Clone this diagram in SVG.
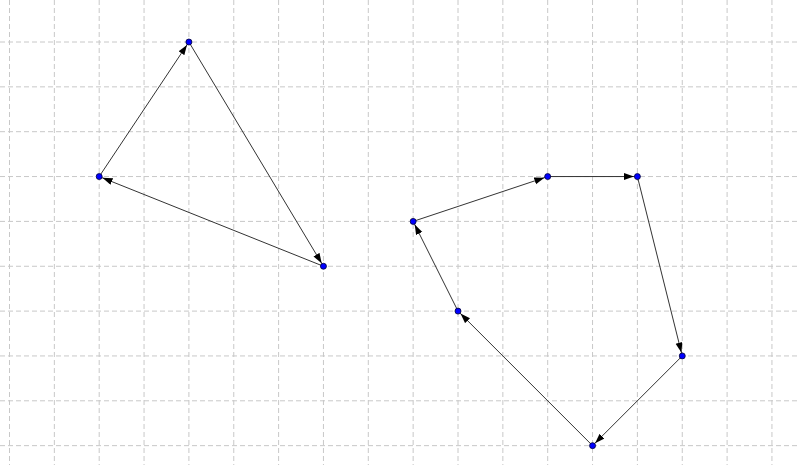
<svg xmlns="http://www.w3.org/2000/svg" width="800" height="465" viewBox="0 0 800 465">
<style>
.g line{stroke:#c8c8c8;stroke-width:1;stroke-dasharray:5,3}
.e line{stroke:#333;stroke-width:1;marker-end:url(#a)}
.n circle{fill:#0000ff;stroke:#000033;stroke-width:0.8}
</style>
<defs>
<marker id="a" markerUnits="userSpaceOnUse" markerWidth="14" markerHeight="8" refX="13.5" refY="3.5" orient="auto"><path d="M0,0 L10,3.5 L0,7 z" fill="#000"/></marker>
</defs>
<rect width="800" height="465" fill="#fff"/>
<g class="g" id="grid">
<line x1="9.5" y1="0" x2="9.5" y2="465"/>
<line x1="54.35" y1="0" x2="54.35" y2="465"/>
<line x1="99.2" y1="0" x2="99.2" y2="465"/>
<line x1="144.05" y1="0" x2="144.05" y2="465"/>
<line x1="188.9" y1="0" x2="188.9" y2="465"/>
<line x1="233.75" y1="0" x2="233.75" y2="465"/>
<line x1="278.6" y1="0" x2="278.6" y2="465"/>
<line x1="323.45" y1="0" x2="323.45" y2="465"/>
<line x1="368.3" y1="0" x2="368.3" y2="465"/>
<line x1="413.15" y1="0" x2="413.15" y2="465"/>
<line x1="458" y1="0" x2="458" y2="465"/>
<line x1="502.85" y1="0" x2="502.85" y2="465"/>
<line x1="547.7" y1="0" x2="547.7" y2="465"/>
<line x1="592.55" y1="0" x2="592.55" y2="465"/>
<line x1="637.4" y1="0" x2="637.4" y2="465"/>
<line x1="682.25" y1="0" x2="682.25" y2="465"/>
<line x1="727.1" y1="0" x2="727.1" y2="465"/>
<line x1="771.95" y1="0" x2="771.95" y2="465"/>
<line x1="0" y1="42" x2="800" y2="42"/>
<line x1="0" y1="86.85" x2="800" y2="86.85"/>
<line x1="0" y1="131.7" x2="800" y2="131.7"/>
<line x1="0" y1="176.55" x2="800" y2="176.55"/>
<line x1="0" y1="221.4" x2="800" y2="221.4"/>
<line x1="0" y1="266.25" x2="800" y2="266.25"/>
<line x1="0" y1="311.1" x2="800" y2="311.1"/>
<line x1="0" y1="355.95" x2="800" y2="355.95"/>
<line x1="0" y1="400.8" x2="800" y2="400.8"/>
<line x1="0" y1="445.65" x2="800" y2="445.65"/>
</g>
<g class="e" id="connectors">
<line x1="99.2" y1="176.55" x2="188.9" y2="42"/>
<line x1="188.9" y1="42" x2="323.45" y2="266.25"/>
<line x1="323.45" y1="266.25" x2="99.2" y2="176.55"/>
<line x1="413.15" y1="221.4" x2="547.7" y2="176.55"/>
<line x1="547.7" y1="176.55" x2="637.4" y2="176.55"/>
<line x1="637.4" y1="176.55" x2="682.25" y2="355.95"/>
<line x1="682.25" y1="355.95" x2="592.55" y2="445.65"/>
<line x1="592.55" y1="445.65" x2="458" y2="311.1"/>
<line x1="458" y1="311.1" x2="413.15" y2="221.4"/>
</g>
<g class="n">
<g id="n1"><circle cx="188.9" cy="42" r="3"/></g>
<g id="n2"><circle cx="99.2" cy="176.55" r="3"/></g>
<g id="n3"><circle cx="323.45" cy="266.25" r="3"/></g>
<g id="n4"><circle cx="413.15" cy="221.4" r="3"/></g>
<g id="n5"><circle cx="547.7" cy="176.55" r="3"/></g>
<g id="n6"><circle cx="637.4" cy="176.55" r="3"/></g>
<g id="n7"><circle cx="682.25" cy="355.95" r="3"/></g>
<g id="n8"><circle cx="592.55" cy="445.65" r="3"/></g>
<g id="n9"><circle cx="458" cy="311.1" r="3"/></g>
</g>
</svg>
